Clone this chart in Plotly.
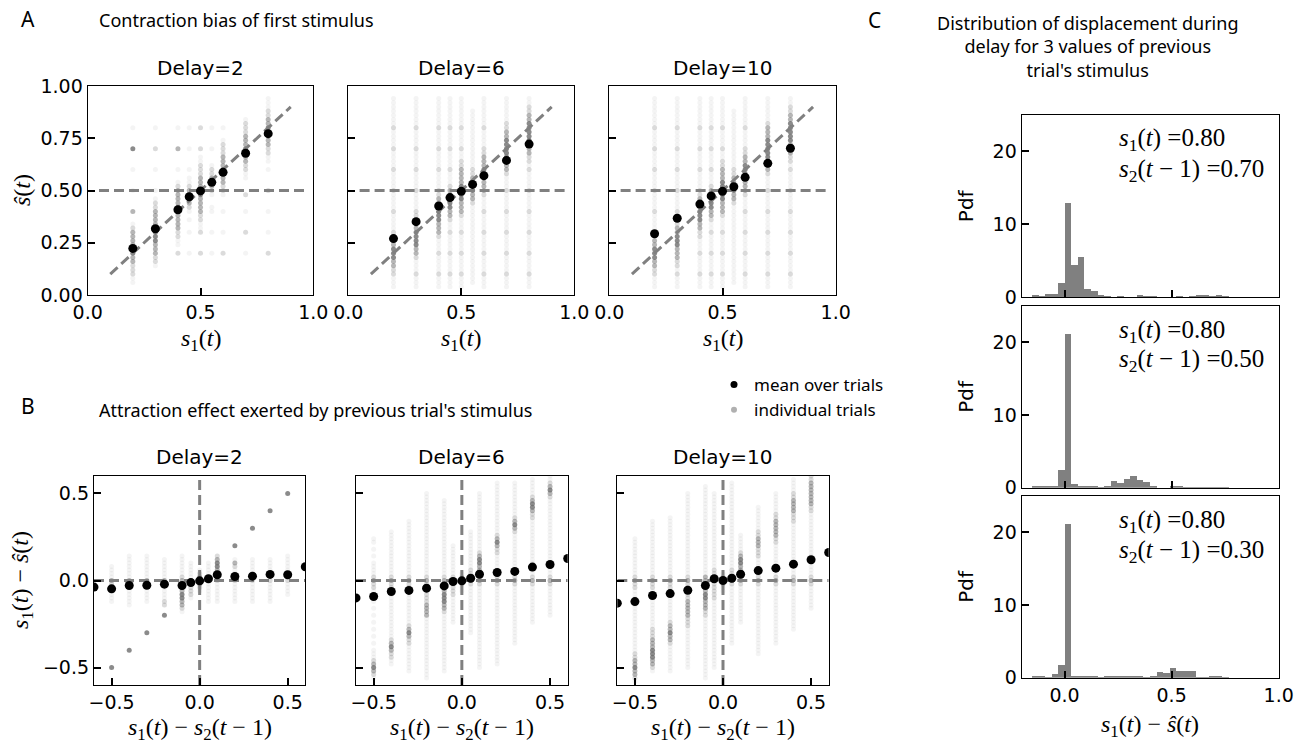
import numpy as np
import plotly.graph_objects as go

W, H = 1301, 745

# ---------------------------------------------------------------- panel A data
s1_values = [0.2, 0.3, 0.4, 0.45, 0.5, 0.55, 0.6, 0.7, 0.8]
delay_labels = ["Delay=2", "Delay=6", "Delay=10"]

mean_shat_delay2 = [0.223, 0.317, 0.408, 0.470, 0.498, 0.539, 0.587, 0.678, 0.772]
mean_shat_delay6 = [0.270, 0.351, 0.426, 0.466, 0.496, 0.529, 0.571, 0.644, 0.722]
mean_shat_delay10 = [0.293, 0.367, 0.435, 0.474, 0.496, 0.518, 0.563, 0.630, 0.702]

# ŝ(t) levels at which individual trials landed (step 0.02 from 0 to 1)
shat_levels = np.round(np.arange(0.0, 1.0001, 0.02), 2)

# trial density per s1 column, one digit per level (0 = none ... 4 = dense)
trials_delay2 = [
    "0001122233 4433332100 3000010000 1000040000 1000000000 0",
    "0000000122 3334444333 3221010000 1000020000 1000000000 0",
    "0000000000 2011223333 4433332100 1000030000 1000000000 0",
    "0000000000 1000010010 1234432110 1000010000 1000000000 0",
    "0000000000 2000021122 3333443332 2211020000 2000000000 0",
    "0000000000 1000010000 1100123432 2100010000 1000000000 0",
    "0000000000 2000010000 1000122334 4333222100 1000000000 0",
    "0000000000 1000020000 1000200011 2233443332 2210000000 0",
    "0000000000 2000010000 1000020000 1011223334 4332211100 0",
]
trials_delay6 = [
    "0011122334 4433221111 2111121111 2111121111 2111111100 0",
    "0011121112 3344443322 2111121111 2111121111 2111111100 0",
    "0011121111 2111233344 4433221111 2111121111 2111111100 0",
    "0011121111 2111121123 3444332111 2111121111 2111111100 0",
    "0011121111 2111121112 3334444333 3221121111 2111111100 0",
    "0001111111 1111111111 1123344332 2111111111 1111100000 0",
    "0011121111 2111121111 2111233344 4333221111 2111111100 0",
    "0011121111 2111121111 2111121112 3334444433 2211111100 0",
    "0011121111 2111121111 2111121111 2122333444 4433221100 0",
]
trials_delay10 = [
    "0011122334 4433221111 2111121111 2111121111 2111111100 0",
    "0011121223 3344433221 2111121111 2111121111 2111111100 0",
    "0011121111 2111223344 4433221111 2111121111 2111111100 0",
    "0011121111 2111121123 3444332111 2111121111 2111111100 0",
    "0011121111 2111121112 3334444433 3221121111 2111111100 0",
    "0001111111 1111111111 1123344332 2111111111 1111100000 0",
    "0011121111 2111121111 2111233344 4433221111 2111111100 0",
    "0011121111 2111121111 2111121112 3334444433 3211111100 0",
    "0011121111 2111121111 2111121111 2122333444 4433221100 0",
]

identity_span = [0.1, 0.9]
center_line_span = [0.05, 0.97]
center_level = 0.5

# ---------------------------------------------------------------- panel B data
diff_values = [-0.6, -0.5, -0.4, -0.3, -0.2, -0.1, -0.05, 0.0, 0.05, 0.1, 0.2, 0.3, 0.4, 0.5, 0.6]
mean_err_delay2 = [-0.038, -0.048, -0.029, -0.027, -0.021, -0.029, -0.012, -0.002, 0.010,
                   0.033, 0.023, 0.025, 0.035, 0.033, 0.079]
mean_err_delay6 = [-0.100, -0.092, -0.063, -0.057, -0.044, -0.031, -0.006, -0.002, 0.013,
                   0.036, 0.046, 0.052, 0.077, 0.092, 0.126]
mean_err_delay10 = [-0.130, -0.121, -0.086, -0.075, -0.056, -0.029, 0.010, 0.000, 0.013,
                    0.036, 0.057, 0.071, 0.094, 0.119, 0.161]

# s1(t) - ŝ(t) levels (step 0.02 from -0.6 to 0.6)
err_levels = np.round(np.arange(-0.6, 0.6001, 0.02), 2)
trial_diff_cols = [-0.5, -0.4, -0.3, -0.2, -0.1, -0.05, 0.0, 0.05, 0.1, 0.2, 0.3, 0.4, 0.5]

err_trials_delay2 = [
    "0000040000 0000000000 0000111112 3111100000 0000000000 0000000000 0",
    "0000000000 4000000000 0001111112 3111111100 0000000000 0000000000 0",
    "0000000000 0000040000 0000111112 3111111100 0000000000 0000000000 0",
    "0000000000 0000000000 4002211112 3111111000 0000000000 0000000000 0",
    "0000000000 0000000000 0123344333 3211111100 0000000000 0000000000 0",
    "0000000000 0000000000 0000012222 2111110000 0000000000 0000000000 0",
    "0000000000 0000000000 0000000123 4321000000 0000000000 0000000000 0",
    "0000000000 0000000000 0000111111 2211110000 0000000000 0000000000 0",
    "0000000000 0000000000 0000111111 2233443200 0000000000 0000000000 0",
    "0000000000 0000000000 0000111111 2111231000 4000000000 0000000000 0",
    "0000000000 0000000000 0000111111 2111111000 0000040000 0000000000 0",
    "0000000000 0000000000 0000111111 2111111000 0000000000 4000000000 0",
    "0000000000 0000000000 0000001111 2111111100 0000000000 0000040000 0",
]
err_trials_delay6 = [
    "0012343211 1010101010 1010111122 3211110101 0110000000 0000000000 0",
    "0000001122 3432111111 1111111122 3211111111 1111100000 0000000000 0",
    "0000111111 1122343211 1111111122 3211111111 1111111100 0000000000 0",
    "0011111111 1111111111 3333222222 3211111111 1111111111 1111110000 0",
    "0000111111 1111111111 1233444333 3211111111 1111111111 1111000000 0",
    "0000000000 0000000011 1111112222 3211111111 1000000000 0000000000 0",
    "0000000000 0000000000 0000000112 3210000000 0000000000 0000000000 0",
    "0000000000 0000011111 1111111112 3322111111 1111100000 0000000000 0",
    "0000011111 1111111111 1111111112 3223344321 1111111111 1111110000 0",
    "0000001111 1111111111 1111111112 3211111122 3432111111 1111111110 0",
    "0000000000 0011111111 1111111112 3211111111 1111234321 1111111110 0",
    "0000000000 0000000011 1111111112 3211111111 1111111122 3443211111 0",
    "0000000000 0000000000 1111111112 3211111111 1111111111 1111234321 1",
]
err_trials_delay10 = [
    "0123343322 1111111111 1111111122 3211111111 1110000000 0000000000 0",
    "0000123344 4333222111 1111111122 3211111111 1111111100 0000000000 0",
    "0000111111 1123343321 1111111122 3211111111 1111111110 0000000000 0",
    "0000011111 1111111222 3333322222 3211111111 1111111111 1111110000 0",
    "0011111111 1111111111 2233344333 3311111111 1111111111 1111111100 0",
    "0000011111 1111111111 1111122222 3222111111 1111111111 1111110000 0",
    "0000000000 0000000000 0000000112 3210000000 0000000000 0000000000 0",
    "0000000000 0011111111 1111111112 3322111111 1111111111 1111111110 0",
    "0000000000 0000000011 1111111112 3223344321 1111000000 0000000000 0",
    "0000000001 1111111111 1111111112 3211111222 3332211111 1100000000 0",
    "0000000000 0011111111 1111111112 3211111111 1223333322 1111110000 0",
    "0000000000 0000001111 1111111112 3211111111 1111111222 3333221111 0",
    "0000000000 0000000000 0011111112 3211111111 1111111111 2233333332 2",
]

# ---------------------------------------------------------------- panel C data
disp_bin_edges = np.linspace(-0.153, 0.765, 31)
prev_stim_values = ["0.70", "0.50", "0.30"]
pdf_prev_070 = [0.28, 0.14, 0.5, 0.5, 2.0, 12.9, 4.4, 5.5, 1.2, 0.8, 0.28, 0.1, 0.0, 0.1, 0.0,
                0.0, 0.28, 0.1, 0.1, 0.0, 0.0, 0.0, 0.1, 0.0, 0.1, 0.28, 0.28, 0.1, 0.28, 0.1]
pdf_prev_050 = [0.1, 0.1, 0.1, 0.3, 2.4, 21.1, 0.45, 0.2, 0.3, 0.1, 0.05, 0.1, 0.9, 0.65, 1.15,
                1.55, 1.0, 0.75, 0.3, 0.0, 0.0, 0.2, 0.2, 0.05, 0.05, 0.05, 0.05, 0.05, 0.05, 0.05]
pdf_prev_030 = [0.2, 0.1, 0.05, 0.45, 1.7, 21.1, 0.3, 0.3, 0.1, 0.2, 0.05, 0.1, 0.2, 0.2, 0.1,
                0.1, 0.1, 0.05, 0.1, 0.75, 0.6, 1.3, 0.9, 0.9, 0.9, 0.05, 0.05, 0.1, 0.3, 0.05]

# ---------------------------------------------------------------- styling
TICK_FONT = dict(family="DejaVu Sans", size=19, color="black")
HEAD_FONT = dict(family="Noto Sans", size=18, color="black")
LETTER_FONT = dict(family="Noto Sans", size=21, color="black")
TITLE_FONT = dict(family="DejaVu Sans", size=20, color="black")
MATH_FONT = dict(family="Liberation Serif", size=24, color="black")
NOTE_FONT = dict(family="Liberation Serif", size=25, color="black")
LINE_GRAY = "#808080"
TRIAL_GRAY = "#6e6e6e"
DENSITY_ALPHA = [0.0, 0.08, 0.25, 0.5, 0.8]
MINUS = "\u2212"


def xdom(x0, x1):
    return [x0 / W, x1 / W]


def ydom(y0, y1):
    return [1 - y1 / H, 1 - y0 / H]


def expand_trials(cols, profiles, levels):
    xs, ys, ops = [], [], []
    for c, prof in zip(cols, profiles):
        digits = prof.replace(" ", "")
        assert len(digits) == len(levels)
        for lvl, ch in zip(levels, digits):
            d = int(ch)
            if d:
                xs.append(c)
                ys.append(float(lvl))
                ops.append(DENSITY_ALPHA[d])
    return xs, ys, ops


def axis_style(domain, rng, tickvals, ticktext, show_labels, anchor):
    return dict(domain=domain, range=rng, anchor=anchor, showgrid=False, zeroline=False,
                showline=True, linecolor="black", linewidth=1.3, mirror=True,
                ticks="inside", ticklen=7, tickwidth=1.5, tickcolor="black",
                tickvals=tickvals, ticktext=ticktext, showticklabels=show_labels,
                tickfont=TICK_FONT, automargin=False)


def note(x, y, text, font, xanchor="center", **kw):
    return dict(x=x / W, y=1 - y / H, text=text, showarrow=False,
                xref="paper", yref="paper", font=font,
                xanchor=xanchor, yanchor="middle", **kw)


fig = go.Figure()
layout_axes = {}
annotations = []

A_x = [(87.7, 313.3), (348.3, 574.3), (609.3, 835.7)]
A_y = (86, 295)
B_x = [(94, 305.3), (356, 567.7), (617.3, 828.7)]
B_y = (476, 685)
C_x = (1021.7, 1278.7)
C_y = [(115, 297.3), (306, 487.7), (496, 677.7)]

S1_LABEL = "<i>s</i><sub>1</sub>(<i>t</i>)"
SHAT_LABEL = "<i>ŝ</i>(<i>t</i>)"
ERR_LABEL = "<i>s</i><sub>1</sub>(<i>t</i>) " + MINUS + " <i>ŝ</i>(<i>t</i>)"
DIFF_LABEL = ("<i>s</i><sub>1</sub>(<i>t</i>) " + MINUS + " <i>s</i><sub>2</sub>(<i>t</i> "
              + MINUS + " 1)")
DASH = dict(color=LINE_GRAY, width=3, dash="10px,5px")

# ---------------------------------------------------------------- panel A
A_means = [mean_shat_delay2, mean_shat_delay6, mean_shat_delay10]
A_trials = [trials_delay2, trials_delay6, trials_delay10]
for k in range(3):
    n = k + 1
    xa, ya = ("x" if n == 1 else f"x{n}"), ("y" if n == 1 else f"y{n}")
    tx, ty, to = expand_trials(s1_values, A_trials[k], shat_levels)
    fig.add_trace(go.Scatter(x=tx, y=ty, mode="markers", xaxis=xa, yaxis=ya, showlegend=False,
                             marker=dict(color=TRIAL_GRAY, size=5, opacity=to, line=dict(width=0)),
                             hoverinfo="skip"))
    fig.add_trace(go.Scatter(x=center_line_span, y=[center_level, center_level], mode="lines",
                             xaxis=xa, yaxis=ya, showlegend=False, line=DASH))
    fig.add_trace(go.Scatter(x=identity_span, y=identity_span, mode="lines",
                             xaxis=xa, yaxis=ya, showlegend=False, line=DASH))
    fig.add_trace(go.Scatter(x=s1_values, y=A_means[k], mode="markers", xaxis=xa, yaxis=ya,
                             showlegend=False, marker=dict(color="black", size=9)))
    layout_axes["xaxis" if n == 1 else f"xaxis{n}"] = axis_style(
        xdom(*A_x[k]), [0, 1], [0, 0.5, 1], ["0.0", "0.5", "1.0"], True, ya)
    layout_axes["yaxis" if n == 1 else f"yaxis{n}"] = axis_style(
        ydom(*A_y), [0, 1], [0, 0.25, 0.5, 0.75, 1.0],
        ["0.00", "0.25", "0.50", "0.75", "1.00"], k == 0, xa)
    cx = (A_x[k][0] + A_x[k][1]) / 2
    annotations.append(note(cx, 68, delay_labels[k], TITLE_FONT))
    annotations.append(note(cx, 340, S1_LABEL, MATH_FONT))

annotations.append(note(22, 190, SHAT_LABEL, MATH_FONT, textangle=-90))

# ---------------------------------------------------------------- panel B
B_means = [mean_err_delay2, mean_err_delay6, mean_err_delay10]
B_trials = [err_trials_delay2, err_trials_delay6, err_trials_delay10]
for k in range(3):
    n = k + 4
    xa, ya = f"x{n}", f"y{n}"
    tx, ty, to = expand_trials(trial_diff_cols, B_trials[k], err_levels)
    fig.add_trace(go.Scatter(x=tx, y=ty, mode="markers", xaxis=xa, yaxis=ya, showlegend=False,
                             marker=dict(color=TRIAL_GRAY, size=5, opacity=to, line=dict(width=0)),
                             hoverinfo="skip"))
    fig.add_trace(go.Scatter(x=[-0.6, 0.6], y=[0, 0], mode="lines", xaxis=xa, yaxis=ya,
                             showlegend=False, line=DASH))
    fig.add_trace(go.Scatter(x=[0, 0], y=[-0.6, 0.6], mode="lines", xaxis=xa, yaxis=ya,
                             showlegend=False, line=DASH))
    fig.add_trace(go.Scatter(x=diff_values, y=B_means[k], mode="markers", xaxis=xa, yaxis=ya,
                             showlegend=False, marker=dict(color="black", size=9)))
    layout_axes[f"xaxis{n}"] = axis_style(
        xdom(*B_x[k]), [-0.6, 0.6], [-0.5, 0, 0.5], [MINUS + "0.5", "0.0", "0.5"], True, ya)
    layout_axes[f"yaxis{n}"] = axis_style(
        ydom(*B_y), [-0.6, 0.6], [-0.5, 0, 0.5], [MINUS + "0.5", "0.0", "0.5"], k == 0, xa)
    cx = (B_x[k][0] + B_x[k][1]) / 2
    annotations.append(note(cx, 457, delay_labels[k], TITLE_FONT))
    annotations.append(note(cx, 729, DIFF_LABEL, MATH_FONT))

annotations.append(note(22, 580, ERR_LABEL, MATH_FONT, textangle=-90))

# ---------------------------------------------------------------- panel C
edges = np.asarray(disp_bin_edges)
centers = (edges[:-1] + edges[1:]) / 2
widths = np.diff(edges)
C_pdfs = [pdf_prev_070, pdf_prev_050, pdf_prev_030]
for k in range(3):
    n = k + 7
    xa, ya = f"x{n}", f"y{n}"
    fig.add_trace(go.Bar(x=centers, y=C_pdfs[k], width=widths, xaxis=xa, yaxis=ya,
                         showlegend=False, marker=dict(color=LINE_GRAY, line=dict(width=0))))
    layout_axes[f"xaxis{n}"] = axis_style(
        xdom(*C_x), [-0.2, 1.0], [0, 0.5, 1.0], ["0.0", "0.5", "1.0"], k == 2, ya)
    layout_axes[f"yaxis{n}"] = axis_style(
        ydom(*C_y[k]), [0, 25], [0, 10, 20], ["0", "10", "20"], True, xa)
    y_top = C_y[k][0]
    annotations.append(note(1117, y_top + 25, "<i>s</i><sub>1</sub>(<i>t</i>) =0.80",
                            NOTE_FONT, xanchor="left"))
    annotations.append(note(1117, y_top + 55,
                            "<i>s</i><sub>2</sub>(<i>t</i> " + MINUS + " 1) =" + prev_stim_values[k],
                            NOTE_FONT, xanchor="left"))
    cy = (C_y[k][0] + C_y[k][1]) / 2
    annotations.append(note(966, cy, "Pdf", TITLE_FONT, textangle=-90))

annotations.append(note(1150, 726, ERR_LABEL, MATH_FONT))

# ---------------------------------------------------------------- headers
letters = [(19, 19, "A"), (19, 406, "B"), (866, 20, "C")]
for hx, hy, txt in letters:
    annotations.append(note(hx, hy, txt, LETTER_FONT, xanchor="left"))
headers = [
    (97, 20, "Contraction bias of first stimulus"),
    (97, 410, "Attraction effect exerted by previous trial's stimulus"),
]
for hx, hy, txt in headers:
    annotations.append(note(hx, hy, txt, HEAD_FONT, xanchor="left"))
annotations.append(note(1087, 46,
                        "Distribution of displacement during<br>delay for 3 values of previous"
                        "<br>trial's stimulus", HEAD_FONT))

# legend entries
fig.add_trace(go.Scatter(x=[None], y=[None], mode="markers", name="mean over trials",
                         marker=dict(color="black", size=7)))
fig.add_trace(go.Scatter(x=[None], y=[None], mode="markers", name="individual trials",
                         marker=dict(color="#b0b0b0", size=6)))

fig.update_layout(
    width=W, height=H, margin=dict(l=0, r=0, t=0, b=0, autoexpand=False),
    paper_bgcolor="white", plot_bgcolor="white",
    font=dict(family="DejaVu Sans", color="black"),
    annotations=annotations, bargap=0,
    showlegend=True,
    legend=dict(x=714 / W, y=1 - 367 / H, xanchor="left", yanchor="top",
                font=dict(family="Noto Sans", size=17, color="black"),
                bgcolor="rgba(0,0,0,0)", itemwidth=30, tracegroupgap=0),
    **layout_axes,
)

fig.write_html("out.html")
